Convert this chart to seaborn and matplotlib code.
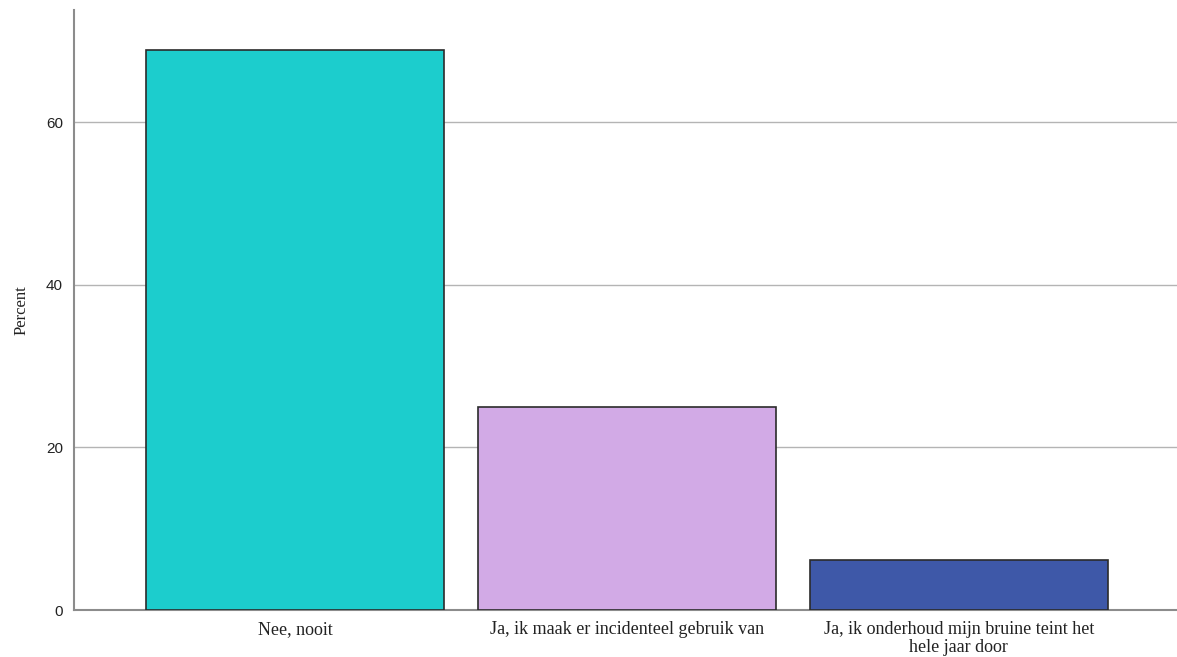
import matplotlib
matplotlib.use('Agg')
import matplotlib.pyplot as plt
import seaborn as sns
import pandas as pd

# Data
categories = ['Nee, nooit',
              'Ja, ik maak er incidenteel gebruik van',
              'Ja, ik onderhoud mijn bruine teint het\nhele jaar door']
percent = [68.9, 25.0, 6.1]
colors = ['#1ccdcd', '#d2aae6', '#3e58a8']
yticks = [0, 20, 40, 60]

df = pd.DataFrame({'cat': categories, 'pct': percent})

sns.set_style('white')

fig = plt.figure(figsize=(11.77, 6.57), dpi=100)
ax = fig.add_axes([74 / 1177, 47 / 657, 1 - 74 / 1177, 600 / 657])

sns.barplot(data=df, x='cat', y='pct', hue='cat', palette=colors, width=0.9,
            saturation=1, edgecolor='#2b2b2b', linewidth=1.2, legend=False,
            ax=ax, zorder=3)

ax.set_xlim(-0.666, 2.657)
ax.set_ylim(0, 73.8)
ax.set_yticks(yticks)
ax.yaxis.grid(True, color='#b4b4b4', linewidth=1, zorder=0)
ax.set_axisbelow(True)

for s in ['top', 'right']:
    ax.spines[s].set_visible(False)
for s in ['left', 'bottom']:
    ax.spines[s].set_color('#8c8c8c')
    ax.spines[s].set_linewidth(1.5)

ax.tick_params(axis='both', length=0, pad=8)
for lbl in ax.get_yticklabels():
    lbl.set_family('Liberation Sans')
    lbl.set_fontsize(11)
    lbl.set_color('#222222')
for lbl in ax.get_xticklabels():
    lbl.set_family('Liberation Serif')
    lbl.set_fontsize(13)
    lbl.set_linespacing(1.1)
    lbl.set_color('#222222')
ax.tick_params(axis='x', pad=8)

ax.set_xlabel('')
ax.set_ylabel('Percent', family='Liberation Serif', fontsize=12, labelpad=12,
              color='#222222')

fig.savefig('out.png', dpi=100)
